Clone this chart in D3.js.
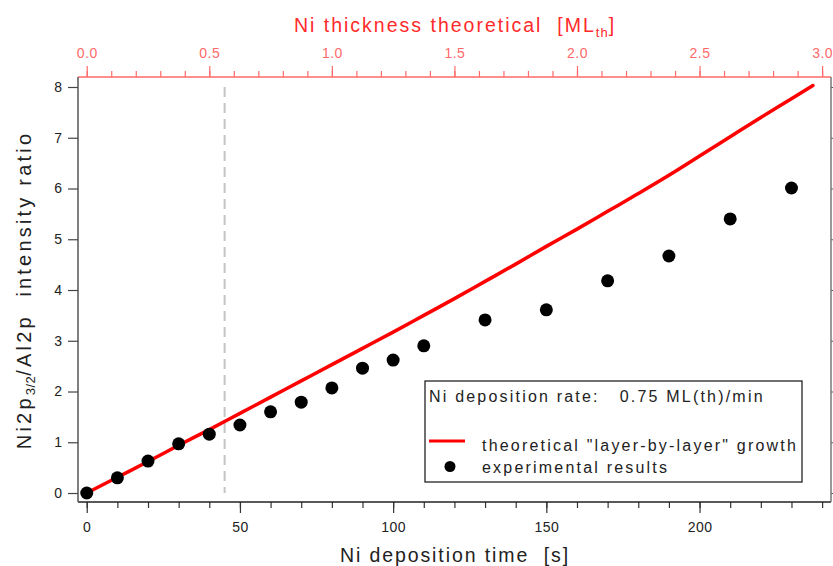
<!DOCTYPE html>
<html><head><meta charset="utf-8">
<script src="https://cdn.jsdelivr.net/npm/d3@7/dist/d3.min.js"></script>
<style>
body{margin:0;background:#fff;}
svg{display:block;font-family:"Liberation Sans",Arial,sans-serif;}
text{white-space:pre;}
</style></head><body>
<svg id="c" width="833" height="566"></svg>
<script>
// ---- data ----
const expTime = [0,10,20,30,40,50,60,70,80,90,100,110,130,150,170,190,210,230];
const expRatio = [0,0.30,0.63,0.97,1.16,1.34,1.60,1.79,2.07,2.46,2.62,2.90,3.41,3.61,4.18,4.67,5.40,6.01];
const theoTime = [0,10,20,30,40,50,60,70,80,90,100,110,120,130,140,150,160,170,180,190,200,210,220,230,237];
const theoRatio = [0,0.31,0.62,0.94,1.25,1.57,1.89,2.21,2.53,2.85,3.17,3.50,3.83,4.17,4.51,4.86,5.20,5.55,5.90,6.26,6.64,7.02,7.40,7.77,8.03];
const markerTime = 45;
const bottomMajor = [0,50,100,150,200];
const bottomMinor = d3.range(0,241,10);
const topMajor = [0.0,0.5,1.0,1.5,2.0,2.5,3.0];
const topMinor = d3.range(0,31).map(d=>d/10);
const yTicks = [0,1,2,3,4,5,6,7,8];
const mlPerSecond = 0.75/60;

// ---- layout ----
const L=78,R=831,T=77,B=502;
const svg=d3.select("#c");
const x=d3.scaleLinear().domain([-2.85,242.9]).range([L,R]);
const xTop=d3.scaleLinear().domain([-2.85*mlPerSecond,242.9*mlPerSecond]).range([L,R]);
const y=d3.scaleLinear().domain([-0.177,8.197]).range([B,T]);

const red="#ff0000", lightRed="#ff6a6a";
const FF="Liberation Sans, Arial, sans-serif";

// dashed marker line
svg.append("line").attr("x1",x(markerTime)).attr("x2",x(markerTime))
  .attr("y1",y(8)).attr("y2",y(0))
  .attr("stroke","#c4c4c4").attr("stroke-width",2).attr("stroke-dasharray","10,6");

// bottom axis
const gB=svg.append("g").attr("transform",`translate(0,${B})`);
gB.call(d3.axisBottom(x).tickValues(bottomMinor).tickSize(6).tickFormat(""));
gB.select(".domain").remove();
const gB2=svg.append("g").attr("transform",`translate(0,${B})`);
gB2.call(d3.axisBottom(x).tickValues(bottomMajor).tickSize(11).tickPadding(9).tickFormat(d3.format("d")));
gB2.select(".domain").remove();
svg.append("line").attr("x1",L).attr("x2",R).attr("y1",B).attr("y2",B).attr("stroke","#222").attr("stroke-width",1.5);
[gB,gB2].forEach(g=>{g.selectAll(".tick line").attr("stroke","#333").attr("stroke-width",1.2);
  g.selectAll("text").attr("font-size",14).attr("fill","#222").attr("font-family",FF).attr("letter-spacing",0.5);});

// top axis
const gT=svg.append("g").attr("transform",`translate(0,${T})`);
gT.call(d3.axisTop(xTop).tickValues(topMinor).tickSize(6).tickFormat(""));
gT.select(".domain").remove();
const gT2=svg.append("g").attr("transform",`translate(0,${T})`);
gT2.call(d3.axisTop(xTop).tickValues(topMajor).tickSize(11).tickPadding(8).tickFormat(d3.format(".1f")));
gT2.select(".domain").remove();
svg.append("line").attr("x1",L).attr("x2",R).attr("y1",T).attr("y2",T).attr("stroke",lightRed).attr("stroke-width",1.5);
[gT,gT2].forEach(g=>{g.selectAll(".tick line").attr("stroke",lightRed).attr("stroke-width",1.2);
  g.selectAll("text").attr("font-size",14).attr("fill",lightRed).attr("font-family",FF).attr("letter-spacing",0.5);});

// left axis
const gL=svg.append("g").attr("transform",`translate(${L},0)`);
gL.call(d3.axisLeft(y).tickValues(yTicks).tickSize(10).tickPadding(6).tickFormat(d3.format("d")));
gL.select(".domain").remove();
gL.selectAll(".tick line").attr("stroke","#444").attr("stroke-width",1.2);
gL.selectAll("text").attr("font-size",14).attr("fill","#222").attr("font-family",FF);
svg.append("line").attr("x1",L).attr("x2",L).attr("y1",T).attr("y2",B).attr("stroke","#555").attr("stroke-width",1.5);

// right axis
const gR=svg.append("g").attr("transform",`translate(${R},0)`);
gR.call(d3.axisRight(y).tickValues(yTicks).tickSize(8).tickFormat(""));
gR.select(".domain").remove();
gR.selectAll(".tick line").attr("stroke","#555").attr("stroke-width",1.2);
svg.append("line").attr("x1",R).attr("x2",R).attr("y1",T).attr("y2",B).attr("stroke","#777").attr("stroke-width",1.5);

// theoretical line
const line=d3.line().x((d,i)=>x(theoTime[i])).y((d,i)=>y(theoRatio[i])).curve(d3.curveMonotoneX);
svg.append("path").datum(theoRatio).attr("d",line).attr("fill","none")
  .attr("stroke",red).attr("stroke-width",3.5).attr("stroke-linecap","round").attr("stroke-linejoin","round");

// experimental points
svg.selectAll("circle.exp").data(expTime).join("circle").attr("class","exp")
  .attr("cx",d=>x(d)).attr("cy",(d,i)=>y(expRatio[i])).attr("r",6.5).attr("fill","#000");

// legend
const lg=svg.append("g");
lg.append("rect").attr("x",425).attr("y",381).attr("width",377).attr("height",101)
  .attr("fill","#fff").attr("stroke","#111").attr("stroke-width",1.2);
const legTxt=(t,xx,yy)=>lg.append("text").attr("x",xx).attr("y",yy).attr("font-size",16)
  .attr("letter-spacing",2.2).attr("fill","#222").text(t);
legTxt("Ni deposition rate:   0.75 ML(th)/min",429,402);
lg.append("line").attr("x1",429).attr("x2",465).attr("y1",441).attr("y2",441).attr("stroke",red).attr("stroke-width",3);
legTxt('theoretical "layer-by-layer" growth',482,451);
lg.append("circle").attr("cx",450).attr("cy",466.5).attr("r",5.5).attr("fill","#000");
legTxt("experimental results",482,473);

// titles
const tt=svg.append("text").attr("x",455).attr("y",32).attr("text-anchor","middle")
  .attr("font-size",19.5).attr("letter-spacing",2).attr("fill","#ff2a2a");
tt.append("tspan").text("Ni thickness theoretical  [ML");
tt.append("tspan").attr("font-size",13).attr("dy",5).attr("letter-spacing",1).text("th");
tt.append("tspan").attr("dy",-5).text("]");

svg.append("text").attr("x",455).attr("y",562).attr("text-anchor","middle")
  .attr("font-size",19.5).attr("letter-spacing",1.9).attr("fill","#222").text("Ni deposition time  [s]");

const yt=svg.append("text").attr("transform","translate(31,290) rotate(-90)").attr("text-anchor","middle")
  .attr("font-size",20).attr("letter-spacing",3.2).attr("fill","#222");
yt.append("tspan").text("Ni2p");
yt.append("tspan").attr("font-size",13).attr("dy",4).attr("letter-spacing",0.5).text("3/2");
yt.append("tspan").attr("dy",-4).text("/Al2p  intensity ratio");
</script>
</body></html>
